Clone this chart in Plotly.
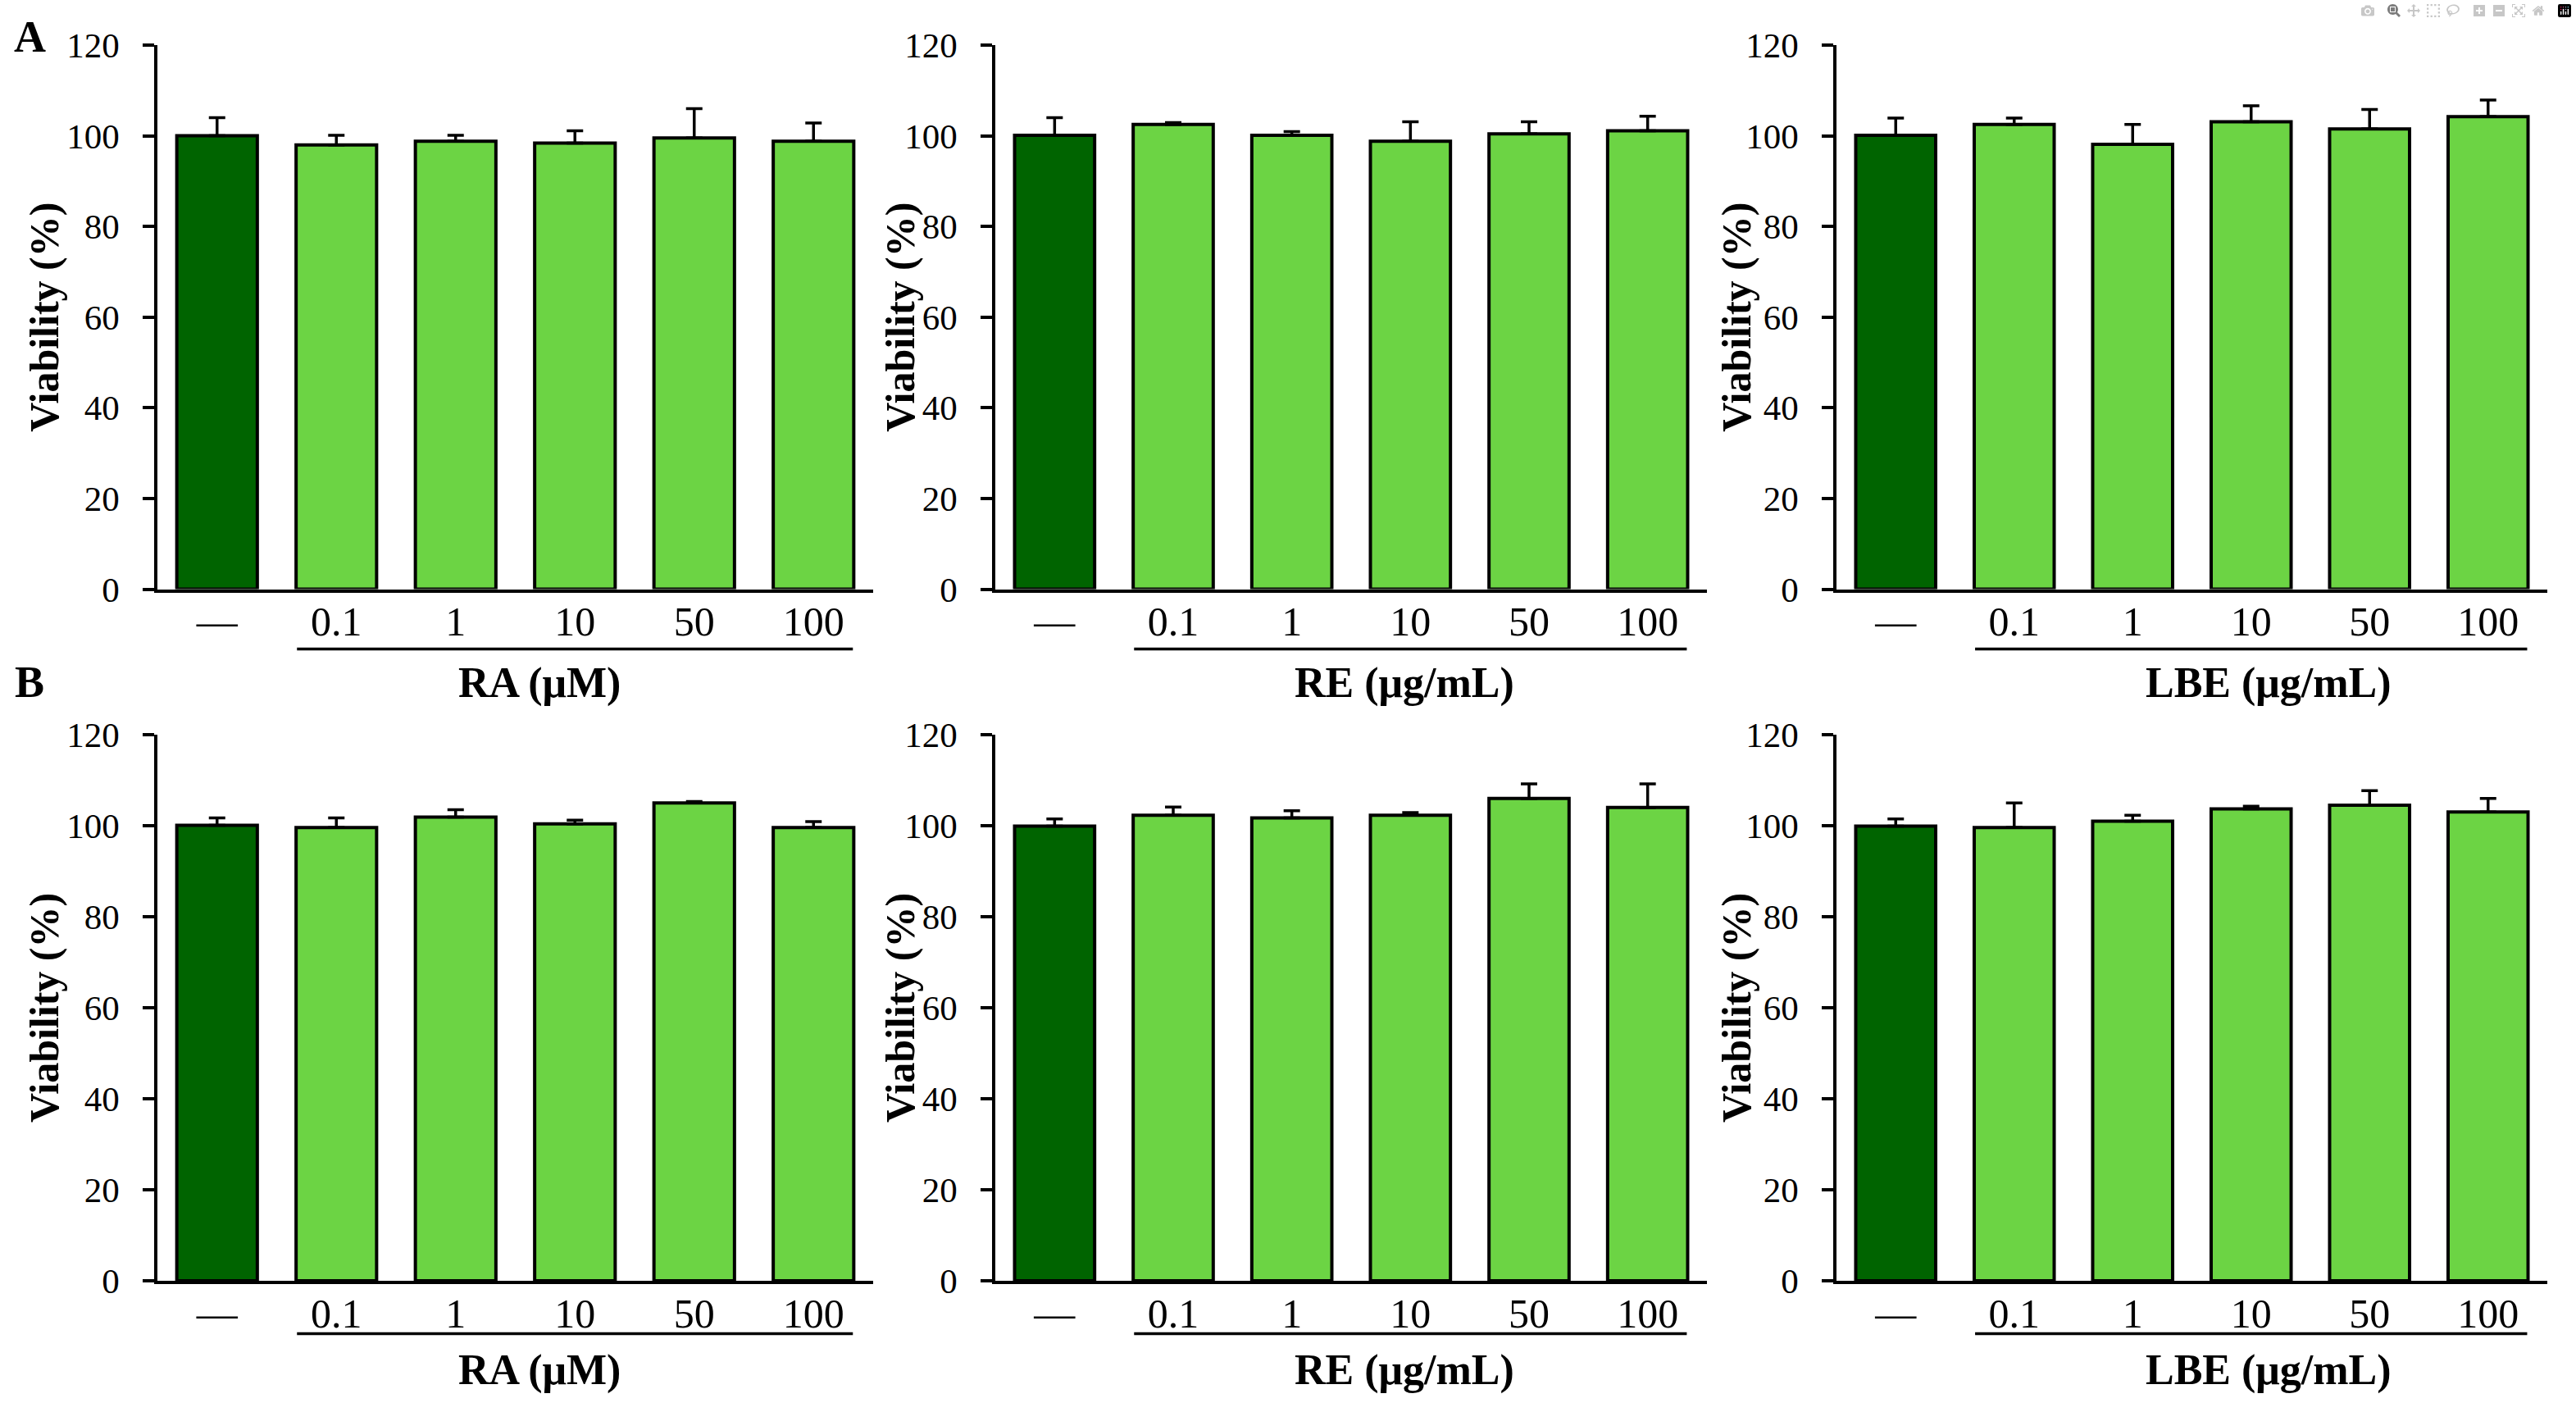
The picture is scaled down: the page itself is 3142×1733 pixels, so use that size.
import plotly.graph_objects as go

# concentrations (first bar = untreated control)
categories = ["—", "0.1", "1", "10", "50", "100"]

# panel A
a_ra = [100.0, 98.0, 98.8, 98.4, 99.5, 98.8]
a_ra_err = [4.0, 2.1, 1.3, 2.7, 6.5, 4.0]
a_re = [100.1, 102.5, 100.1, 98.8, 100.4, 101.1]
a_re_err = [3.9, 0.4, 0.8, 4.3, 2.7, 3.2]
a_lbe = [100.1, 102.5, 98.1, 103.1, 101.5, 104.2]
a_lbe_err = [3.8, 1.4, 4.4, 3.5, 4.3, 3.7]

# panel B
b_ra = [100.1, 99.6, 101.9, 100.4, 105.0, 99.6]
b_ra_err = [1.6, 2.1, 1.6, 0.8, 0.3, 1.3]
b_re = [99.9, 102.3, 101.7, 102.3, 106.0, 104.0]
b_re_err = [1.6, 1.8, 1.6, 0.6, 3.2, 5.2]
b_lbe = [99.9, 99.6, 101.0, 103.7, 104.5, 103.0]
b_lbe_err = [1.6, 5.4, 1.3, 0.6, 3.2, 3.0]

group_titles = ["RA (μM)", "RE (μg/mL)", "LBE (μg/mL)"]
y_title = "Viability (%)"
y_ticks = [0, 20, 40, 60, 80, 100, 120]

W, H = 3142, 1733
FONT = "Liberation Serif"
DARK = "#006400"
LIGHT = "#6cd444"

panels = [
    (a_ra, a_ra_err), (a_re, a_re_err), (a_lbe, a_lbe_err),
    (b_ra, b_ra_err), (b_re, b_re_err), (b_lbe, b_lbe_err),
]

# pixel boxes of the plot areas
col_px = [(192, 1065), (1214, 2082), (2240, 3107)]
row_px = [(55, 718.5), (896, 1562)]
ytitle_px = [54, 1098, 2118]
title_x = [2.7, 2.95, 3.15]
line_y = [-0.11, -0.097]
gtitle_y = [-0.172, -0.163]

fig = go.Figure()
colors = [DARK] + [LIGHT] * 5

for i, (vals, errs) in enumerate(panels):
    r, c = divmod(i, 3)
    n = i + 1
    xa = "x" if n == 1 else "x%d" % n
    ya = "y" if n == 1 else "y%d" % n
    fig.add_trace(go.Bar(
        x=categories, y=vals, xaxis=xa, yaxis=ya,
        width=0.675,
        marker=dict(color=colors, line=dict(color="black", width=4)),
        error_y=dict(type="data", array=errs, symmetric=False,
                     arrayminus=[0] * len(errs), color="black",
                     thickness=3.5, width=10),
        showlegend=False,
    ))
    x0, x1 = col_px[c]
    y0, y1 = row_px[r]
    key = "" if n == 1 else str(n)
    fig.update_layout(**{
        "xaxis" + key: dict(
            domain=[x0 / W, x1 / W], anchor=ya, range=[-0.5, 5.5],
            showline=True, linecolor="black", linewidth=3.5,
            ticks="", tickfont=dict(family=FONT, size=50, color="black"),
            ticklabelstandoff=-7, showgrid=False, zeroline=False,
            automargin=False, fixedrange=True,
        ),
        "yaxis" + key: dict(
            domain=[1 - y1 / H, 1 - y0 / H], anchor=xa, range=[0, 120],
            tickvals=y_ticks, showline=True, linecolor="black",
            linewidth=3.5, ticks="outside", ticklen=14, tickwidth=3.5,
            tickcolor="black",
            tickfont=dict(family=FONT, size=43, color="black"),
            ticklabelstandoff=20, showgrid=False, zeroline=False,
            automargin=False,
        ),
    })
    # bracket line under the concentrations
    fig.add_shape(type="line", xref=xa, yref=ya + " domain",
                  x0=0.67, x1=5.33, y0=line_y[r], y1=line_y[r],
                  line=dict(color="black", width=3.5))
    fig.add_annotation(text="<b>" + group_titles[c] + "</b>",
                       xref=xa, yref=ya + " domain",
                       x=title_x[c], y=gtitle_y[r], showarrow=False,
                       xanchor="center", yanchor="middle",
                       font=dict(family=FONT, size=52, color="black"))
    fig.add_annotation(text="<b>" + y_title + "</b>", textangle=-90,
                       xref="paper", yref=ya + " domain",
                       x=ytitle_px[c] / W, y=0.5, showarrow=False,
                       xanchor="center", yanchor="middle",
                       font=dict(family=FONT, size=50, color="black"))

for lab, ypx in [("A", 45), ("B", 832)]:
    fig.add_annotation(text="<b>" + lab + "</b>", xref="paper", yref="paper",
                       x=36 / W, y=1 - ypx / H, showarrow=False,
                       xanchor="center", yanchor="middle",
                       font=dict(family=FONT, size=54, color="black"))

fig.update_layout(
    width=W, height=H, margin=dict(l=0, r=0, t=0, b=0, autoexpand=False),
    paper_bgcolor="white", plot_bgcolor="white",
)

fig.write_html("out.html", post_script="document.body.style.margin='0';")
